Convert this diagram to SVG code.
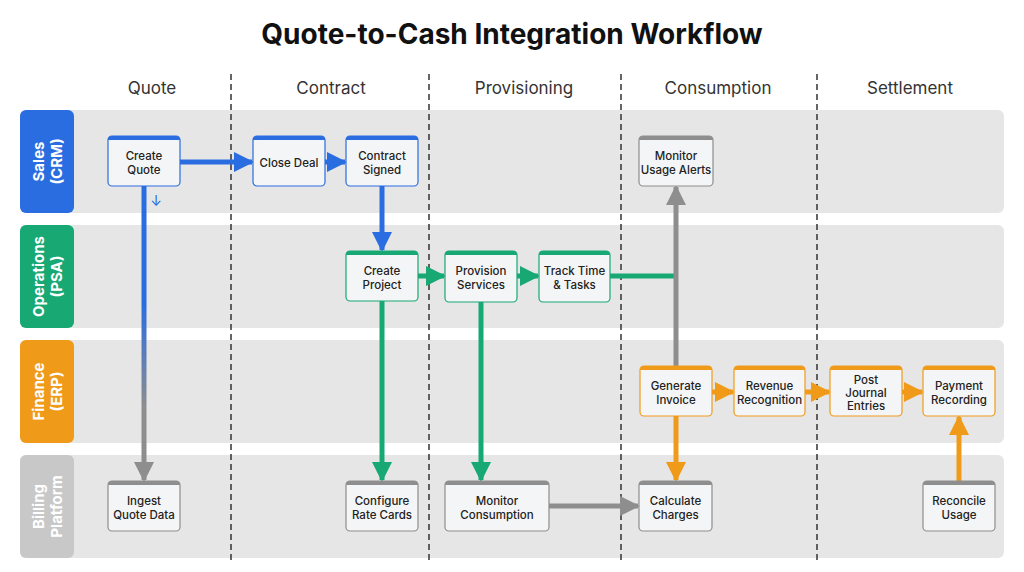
<svg xmlns="http://www.w3.org/2000/svg" width="1024" height="572" viewBox="0 0 1024 572">
<style>
text{font-family:Inter,"Liberation Sans",sans-serif;fill:#222}
.title{font-size:28px;font-weight:700;fill:#111}
.col{font-size:17px;fill:#333}
.lane{fill:#e6e6e6}
.ll{font-size:15px;font-weight:700;fill:#fff}
.nb{fill:#f4f5f6;stroke-width:1.2}
.nt{font-size:11.5px;font-weight:500;fill:#222}
.dash{stroke:#333;stroke-width:1.5;stroke-dasharray:6 4}
.c{fill:none;stroke-width:5}
</style>
<defs>
<marker id="ab" viewBox="0 0 10 10" refX="9" refY="5" markerWidth="4" markerHeight="4" orient="auto"><path d="M0,0L10,5L0,10z" fill="#2a6de0"/></marker>
<marker id="ag" viewBox="0 0 10 10" refX="9" refY="5" markerWidth="4" markerHeight="4" orient="auto"><path d="M0,0L10,5L0,10z" fill="#18a874"/></marker>
<marker id="ao" viewBox="0 0 10 10" refX="9" refY="5" markerWidth="4" markerHeight="4" orient="auto"><path d="M0,0L10,5L0,10z" fill="#f09a1a"/></marker>
<marker id="ay" viewBox="0 0 10 10" refX="9" refY="5" markerWidth="4" markerHeight="4" orient="auto"><path d="M0,0L10,5L0,10z" fill="#8e8e8e"/></marker>
<linearGradient id="bg" gradientUnits="userSpaceOnUse" x1="0" y1="186" x2="0" y2="481"><stop offset="0.4" stop-color="#2a6de0"/><stop offset="0.75" stop-color="#8e8e8e"/></linearGradient>
</defs>
<rect width="1024" height="572" fill="#fff"/>
<text class="title" x="512" y="44" text-anchor="middle">Quote-to-Cash Integration Workflow</text>
<g id="columns">
<text class="col" x="152" y="94" text-anchor="middle">Quote</text>
<text class="col" x="331" y="94" text-anchor="middle">Contract</text>
<text class="col" x="524" y="94" text-anchor="middle">Provisioning</text>
<text class="col" x="718" y="94" text-anchor="middle">Consumption</text>
<text class="col" x="910" y="94" text-anchor="middle">Settlement</text>
</g>
<g id="lanes">
<rect class="lane" x="20" y="110" width="984" height="103" rx="6"/>
<rect class="lane" x="20" y="225" width="984" height="103" rx="6"/>
<rect class="lane" x="20" y="340" width="984" height="103" rx="6"/>
<rect class="lane" x="20" y="455" width="984" height="103" rx="6"/>
<rect x="20" y="110" width="54" height="103" rx="6" fill="#2a6de0"/>
<rect x="20" y="225" width="54" height="103" rx="6" fill="#18a874"/>
<rect x="20" y="340" width="54" height="103" rx="6" fill="#f09a1a"/>
<rect x="20" y="455" width="54" height="103" rx="6" fill="#c8c8c8"/>
<text class="ll" transform="translate(47,161.5) rotate(-90)" text-anchor="middle"><tspan x="0" dy="-3">Sales</tspan><tspan x="0" dy="18">(CRM)</tspan></text>
<text class="ll" transform="translate(47,276.5) rotate(-90)" text-anchor="middle"><tspan x="0" dy="-3">Operations</tspan><tspan x="0" dy="18">(PSA)</tspan></text>
<text class="ll" transform="translate(47,391.5) rotate(-90)" text-anchor="middle"><tspan x="0" dy="-3">Finance</tspan><tspan x="0" dy="18">(ERP)</tspan></text>
<text class="ll" transform="translate(47,506.5) rotate(-90)" text-anchor="middle"><tspan x="0" dy="-3">Billing</tspan><tspan x="0" dy="18">Platform</tspan></text>
</g>
<g id="dividers">
<line class="dash" x1="231" y1="74" x2="231" y2="560"/>
<line class="dash" x1="429" y1="74" x2="429" y2="560"/>
<line class="dash" x1="621" y1="74" x2="621" y2="560"/>
<line class="dash" x1="817" y1="74" x2="817" y2="560"/>
</g>
<g id="connectors">
<line class="c" stroke="#2a6de0" x1="180" y1="162" x2="252" y2="162" marker-end="url(#ab)"/>
<line class="c" stroke="#2a6de0" x1="325" y1="162" x2="345" y2="162" marker-end="url(#ab)"/>
<line class="c" stroke="#2a6de0" x1="382" y1="186" x2="382" y2="250" marker-end="url(#ab)"/>
<line class="c" stroke="url(#bg)" x1="144" y1="186" x2="144" y2="480" marker-end="url(#ay)"/>
<text x="156" y="206" font-size="14" text-anchor="middle" style="fill:#2a6de0">↓</text>
<line class="c" stroke="#18a874" x1="418" y1="276" x2="444" y2="276" marker-end="url(#ag)"/>
<line class="c" stroke="#18a874" x1="517" y1="276" x2="538" y2="276" marker-end="url(#ag)"/>
<line class="c" stroke="#18a874" x1="610" y1="276" x2="676" y2="276"/>
<line class="c" stroke="#8e8e8e" x1="676" y1="366" x2="676" y2="187" marker-end="url(#ay)"/>
<line class="c" stroke="#18a874" x1="382" y1="301" x2="382" y2="480" marker-end="url(#ag)"/>
<line class="c" stroke="#18a874" x1="481" y1="302" x2="481" y2="480" marker-end="url(#ag)"/>
<line class="c" stroke="#8e8e8e" x1="549" y1="506" x2="638" y2="506" marker-end="url(#ay)"/>
<line class="c" stroke="#f09a1a" x1="676" y1="416" x2="676" y2="480" marker-end="url(#ao)"/>
<line class="c" stroke="#f09a1a" x1="712" y1="392" x2="733" y2="392" marker-end="url(#ao)"/>
<line class="c" stroke="#f09a1a" x1="805" y1="392" x2="829" y2="392" marker-end="url(#ao)"/>
<line class="c" stroke="#f09a1a" x1="902" y1="392" x2="922" y2="392" marker-end="url(#ao)"/>
<line class="c" stroke="#f09a1a" x1="959" y1="481" x2="959" y2="417" marker-end="url(#ao)"/>
</g>
<g id="n-create-quote"><rect class="nb" stroke="#2a6de0" x="108" y="136" width="72" height="50" rx="4"/><path d="M108,140a4,4 0 0 1 4-4h64a4,4 0 0 1 4,4z" fill="#2a6de0"/><text class="nt" text-anchor="middle"><tspan x="144" y="160">Create</tspan><tspan x="144" y="174">Quote</tspan></text></g>
<g id="n-close-deal"><rect class="nb" stroke="#2a6de0" x="253" y="136" width="72" height="50" rx="4"/><path d="M253,140a4,4 0 0 1 4-4h64a4,4 0 0 1 4,4z" fill="#2a6de0"/><text class="nt" text-anchor="middle" x="289" y="167">Close Deal</text></g>
<g id="n-contract-signed"><rect class="nb" stroke="#2a6de0" x="346" y="136" width="72" height="50" rx="4"/><path d="M346,140a4,4 0 0 1 4-4h64a4,4 0 0 1 4,4z" fill="#2a6de0"/><text class="nt" text-anchor="middle"><tspan x="382" y="160">Contract</tspan><tspan x="382" y="174">Signed</tspan></text></g>
<g id="n-monitor-usage"><rect class="nb" stroke="#8e8e8e" x="639" y="136" width="74" height="50" rx="4"/><path d="M639,140a4,4 0 0 1 4-4h66a4,4 0 0 1 4,4z" fill="#8e8e8e"/><text class="nt" text-anchor="middle"><tspan x="676" y="160">Monitor</tspan><tspan x="676" y="174">Usage Alerts</tspan></text></g>
<g id="n-create-project"><rect class="nb" stroke="#18a874" x="346" y="251" width="72" height="50" rx="4"/><path d="M346,255a4,4 0 0 1 4-4h64a4,4 0 0 1 4,4z" fill="#18a874"/><text class="nt" text-anchor="middle"><tspan x="382" y="275">Create</tspan><tspan x="382" y="289">Project</tspan></text></g>
<g id="n-provision"><rect class="nb" stroke="#18a874" x="445" y="251" width="72" height="51" rx="4"/><path d="M445,255a4,4 0 0 1 4-4h64a4,4 0 0 1 4,4z" fill="#18a874"/><text class="nt" text-anchor="middle"><tspan x="481" y="275">Provision</tspan><tspan x="481" y="289">Services</tspan></text></g>
<g id="n-track-time"><rect class="nb" stroke="#18a874" x="539" y="251" width="71" height="51" rx="4"/><path d="M539,255a4,4 0 0 1 4-4h63a4,4 0 0 1 4,4z" fill="#18a874"/><text class="nt" text-anchor="middle"><tspan x="574.5" y="275">Track Time</tspan><tspan x="574.5" y="289">&amp; Tasks</tspan></text></g>
<g id="n-generate-invoice"><rect class="nb" stroke="#f09a1a" x="640" y="366" width="72" height="50" rx="4"/><path d="M640,370a4,4 0 0 1 4-4h64a4,4 0 0 1 4,4z" fill="#f09a1a"/><text class="nt" text-anchor="middle"><tspan x="676" y="390">Generate</tspan><tspan x="676" y="404">Invoice</tspan></text></g>
<g id="n-revenue"><rect class="nb" stroke="#f09a1a" x="734" y="366" width="71" height="50" rx="4"/><path d="M734,370a4,4 0 0 1 4-4h63a4,4 0 0 1 4,4z" fill="#f09a1a"/><text class="nt" text-anchor="middle"><tspan x="769.5" y="390">Revenue</tspan><tspan x="769.5" y="404">Recognition</tspan></text></g>
<g id="n-post-journal"><rect class="nb" stroke="#f09a1a" x="830" y="366" width="72" height="50" rx="4"/><path d="M830,370a4,4 0 0 1 4-4h64a4,4 0 0 1 4,4z" fill="#f09a1a"/><text class="nt" text-anchor="middle"><tspan x="866" y="384">Post</tspan><tspan x="866" y="397">Journal</tspan><tspan x="866" y="410">Entries</tspan></text></g>
<g id="n-payment"><rect class="nb" stroke="#f09a1a" x="923" y="366" width="72" height="50" rx="4"/><path d="M923,370a4,4 0 0 1 4-4h64a4,4 0 0 1 4,4z" fill="#f09a1a"/><text class="nt" text-anchor="middle"><tspan x="959" y="390">Payment</tspan><tspan x="959" y="404">Recording</tspan></text></g>
<g id="n-ingest"><rect class="nb" stroke="#8e8e8e" x="108" y="481" width="72" height="50" rx="4"/><path d="M108,485a4,4 0 0 1 4-4h64a4,4 0 0 1 4,4z" fill="#8e8e8e"/><text class="nt" text-anchor="middle"><tspan x="144" y="505">Ingest</tspan><tspan x="144" y="519">Quote Data</tspan></text></g>
<g id="n-configure"><rect class="nb" stroke="#8e8e8e" x="346" y="481" width="72" height="50" rx="4"/><path d="M346,485a4,4 0 0 1 4-4h64a4,4 0 0 1 4,4z" fill="#8e8e8e"/><text class="nt" text-anchor="middle"><tspan x="382" y="505">Configure</tspan><tspan x="382" y="519">Rate Cards</tspan></text></g>
<g id="n-monitor-consumption"><rect class="nb" stroke="#8e8e8e" x="445" y="481" width="104" height="50" rx="4"/><path d="M445,485a4,4 0 0 1 4-4h96a4,4 0 0 1 4,4z" fill="#8e8e8e"/><text class="nt" text-anchor="middle"><tspan x="497" y="505">Monitor</tspan><tspan x="497" y="519">Consumption</tspan></text></g>
<g id="n-calculate"><rect class="nb" stroke="#8e8e8e" x="639" y="481" width="73" height="50" rx="4"/><path d="M639,485a4,4 0 0 1 4-4h65a4,4 0 0 1 4,4z" fill="#8e8e8e"/><text class="nt" text-anchor="middle"><tspan x="675.5" y="505">Calculate</tspan><tspan x="675.5" y="519">Charges</tspan></text></g>
<g id="n-reconcile"><rect class="nb" stroke="#8e8e8e" x="923" y="481" width="72" height="50" rx="4"/><path d="M923,485a4,4 0 0 1 4-4h64a4,4 0 0 1 4,4z" fill="#8e8e8e"/><text class="nt" text-anchor="middle"><tspan x="959" y="505">Reconcile</tspan><tspan x="959" y="519">Usage</tspan></text></g>
</svg>
